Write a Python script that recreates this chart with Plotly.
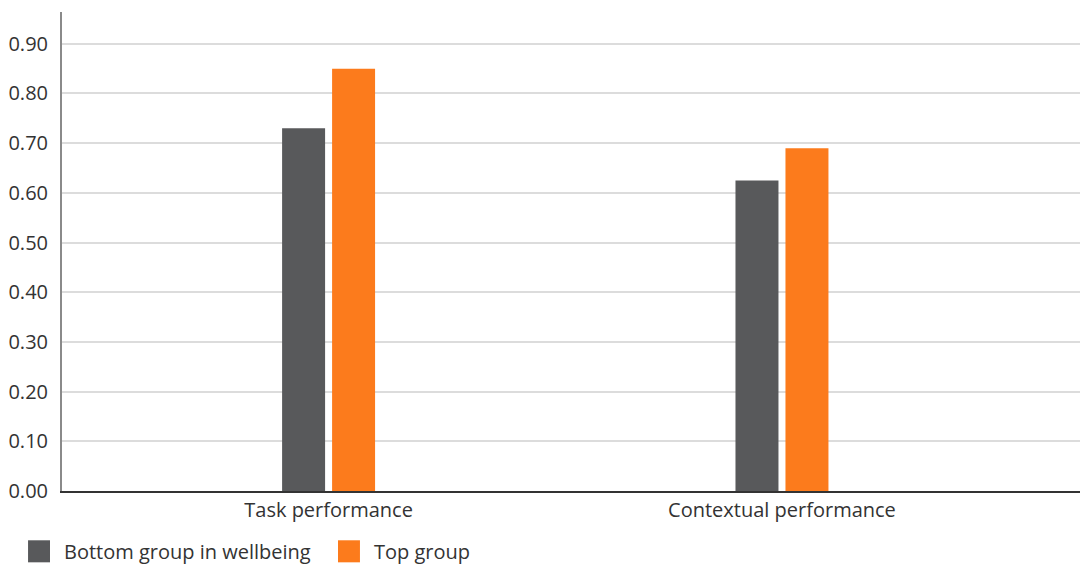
import plotly.graph_objects as go

categories = ["Task performance", "Contextual performance"]
bottom_group = [0.73, 0.625]
top_group = [0.85, 0.69]
series_names = ["Bottom group in wellbeing", "Top group"]
series_colors = ["#58595b", "#fc7b1c"]
tick_vals = [0.0, 0.1, 0.2, 0.3, 0.4, 0.5, 0.6, 0.7, 0.8, 0.9]
tick_text = ["0.00", "0.10", "0.20", "0.30", "0.40", "0.50", "0.60", "0.70", "0.80", "0.90"]

FONT = "Open Sans"
TXT = "#333333"
FS = 20

fig = go.Figure()
fig.add_trace(go.Bar(x=categories, y=bottom_group, name=series_names[0],
                     marker=dict(color=series_colors[0], line=dict(width=0))))
fig.add_trace(go.Bar(x=categories, y=top_group, name=series_names[1],
                     marker=dict(color=series_colors[1], line=dict(width=0))))

# custom legend (large squares) in paper coordinates
sq_x = [(-0.0331, -0.0117), (0.269, 0.2904)]
txt_x = [0.0, 0.3021]
for i in range(2):
    fig.add_shape(type="rect", xref="paper", yref="paper",
                  x0=sq_x[i][0], x1=sq_x[i][1], y0=-0.1489, y1=-0.1029,
                  fillcolor=series_colors[i], line=dict(width=0))
    fig.add_annotation(xref="paper", yref="paper", x=txt_x[i], y=-0.1259,
                       xanchor="left", yanchor="middle", showarrow=False,
                       text=series_names[i],
                       font=dict(family=FONT, size=FS, color=TXT))

fig.update_layout(
    width=1080, height=559,
    margin=dict(l=54, r=0, t=4, b=76, pad=0),
    paper_bgcolor="white", plot_bgcolor="white",
    barmode="group", bargap=0.7795, bargroupgap=0.14,
    font=dict(family=FONT, size=FS, color=TXT),
    showlegend=False,
    xaxis=dict(type="category", range=[-0.588, 1.675], showgrid=False,
               showline=True, linecolor="#333333", linewidth=2,
               ticks="", tickfont=dict(family=FONT, size=FS, color=TXT),
               fixedrange=True),
    yaxis=dict(range=[0, 0.964], tickvals=tick_vals, ticktext=tick_text,
               showgrid=True, gridcolor="#dcdcdc", gridwidth=1.5,
               showline=True, linecolor="#8a8a8a", linewidth=2,
               ticks="", ticklabelstandoff=8, zeroline=False,
               tickfont=dict(family=FONT, size=FS, color=TXT)),
)

fig.write_html("out.html")
